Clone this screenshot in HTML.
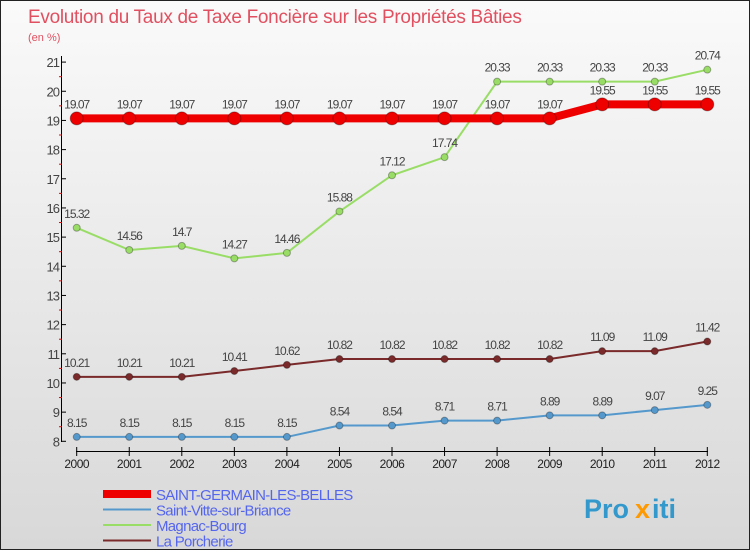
<!DOCTYPE html>
<html><head><meta charset="utf-8"><style>
body{margin:0}
#c{width:750px;height:550px;position:relative;background:linear-gradient(#fafafa,#d8d8d8);border:1px solid #222;box-sizing:border-box;overflow:hidden;font-family:"Liberation Sans",sans-serif}
</style></head><body>
<div id="c">
<svg width="750" height="550" id="s"></svg>
</div>
<script>
const years=["2000","2001","2002","2003","2004","2005","2006","2007","2008","2009","2010","2011","2012"];
const yTicks=[8,9,10,11,12,13,14,15,16,17,18,19,20,21];
const sgb=[19.07,19.07,19.07,19.07,19.07,19.07,19.07,19.07,19.07,19.07,19.55,19.55,19.55];
const svb=[8.15,8.15,8.15,8.15,8.15,8.54,8.54,8.71,8.71,8.89,8.89,9.07,9.25];
const mb=[15.32,14.56,14.7,14.27,14.46,15.88,17.12,17.74,20.33,20.33,20.33,20.33,20.74];
const lp=[10.21,10.21,10.21,10.41,10.62,10.82,10.82,10.82,10.82,10.82,11.09,11.09,11.42];
const names=["SAINT-GERMAIN-LES-BELLES","Saint-Vitte-sur-Briance","Magnac-Bourg","La Porcherie"];
const NS="http://www.w3.org/2000/svg";
const s=document.getElementById('s');
const X=i=>75.7+i*52.55;
const Y=v=>440.3-(v-8)*29.17;
function el(t,a,txt){const e=document.createElementNS(NS,t);for(const k in a)e.setAttribute(k,a[k]);if(txt!==undefined)e.textContent=txt;s.appendChild(e);return e;}
let e;
e=el('text',{x:27,y:22,'font-size':19,fill:'#e05060','letter-spacing':-0.3},'Evolution du Taux de Taxe Foncière sur les Propriétés Bâties');


e=el('text',{x:27,y:40,'font-size':11,fill:'#e05060'},'(en %)');


el('line',{x1:60.5,y1:55,x2:60.5,y2:441,stroke:'#000','stroke-width':1});
el('line',{x1:75,y1:450.5,x2:707,y2:450.5,stroke:'#000','stroke-width':1});
yTicks.forEach(v=>{
 el('line',{x1:60,y1:Y(v),x2:65,y2:Y(v),stroke:'#000'});
 if(v<21)el('line',{x1:58,y1:Y(v+0.5),x2:61,y2:Y(v+0.5),stroke:'#e00'});
 e=el('text',{x:58,y:Y(v)+5,'font-size':13,'text-anchor':'end',fill:'#444','letter-spacing':-1},String(v));
 
 
});
years.forEach((y,i)=>{
 el('line',{x1:X(i),y1:446,x2:X(i),y2:455,stroke:'#000'});
 e=el('text',{x:X(i),y:467,'font-size':12,'text-anchor':'middle',fill:'#222','letter-spacing':-0.5},y);
 
 
});
function series(d,col,w,r,name){
 const pts=d.map((v,i)=>X(i)+','+Y(v)).join(' ');
 e=el('polyline',{points:pts,fill:'none',stroke:col,'stroke-width':w});
 
 
 d.forEach((v,i)=>{
  e=el('circle',{cx:X(i),cy:Y(v),r:r,fill:col,stroke:'rgba(0,0,0,0.3)','stroke-width':1});
  
  
  e=el('text',{x:X(i),y:Y(v)-10,'font-size':12,'text-anchor':'middle',fill:'#444','letter-spacing':-1},String(v));
  
  
 });
}
series(mb,'#99dd66',2,3.5,'magnac-bourg');
series(lp,'#7a2a2a',2,3.5,'la-porcherie');
series(svb,'#5599cc',2,3.5,'saint-vitte');
series(sgb,'#ee0000',8,6.5,'saint-germain');
const lc=['#ee0000','#5599cc','#99dd66','#7a2a2a'],lw=[8,2,2,2];
names.forEach((n,i)=>{
 const y=493+i*15.5;
 e=el('line',{x1:102,y1:y,x2:150,y2:y,stroke:lc[i],'stroke-width':lw[i]});
 
 
 e=el('text',{x:155,y:y+6,'font-size':15,fill:'#5566ee','letter-spacing':-0.7},n);
 
 
});
e=el('text',{x:583,y:517,'font-size':27,'font-weight':'bold',fill:'#3399cc'},'Pro');


el('text',{x:634,y:517,'font-size':27,'font-weight':'bold',fill:'#ff9900'},'x');
el('text',{x:651,y:517,'font-size':27,'font-weight':'bold',fill:'#3399cc'},'iti');
</script>
</body></html>
